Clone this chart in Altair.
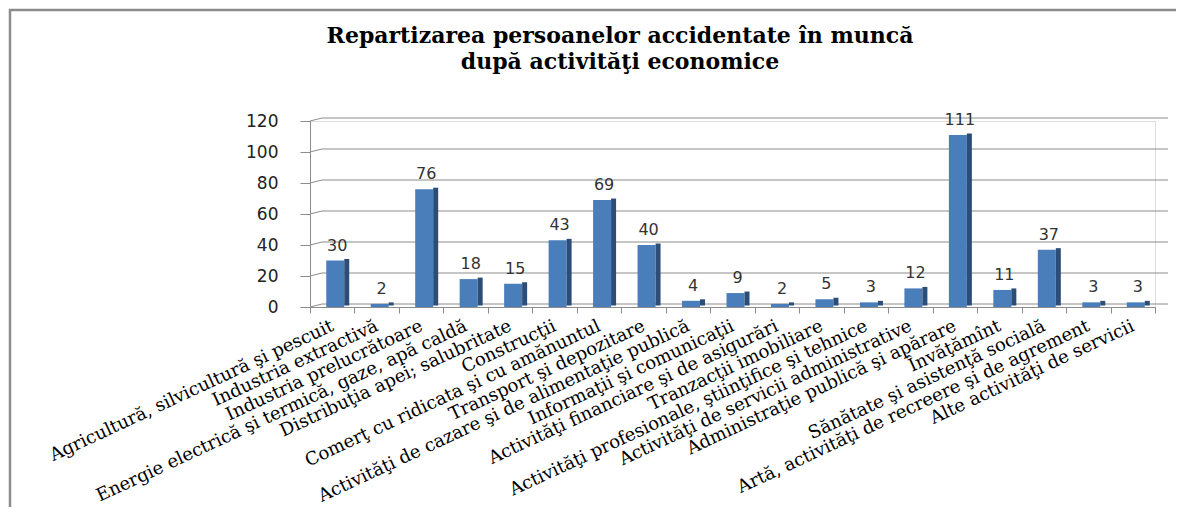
import altair as alt
import pandas as pd

categories = [
    "Agricultură, silvicultură şi pescuit",
    "Industria extractivă",
    "Industria prelucrătoare",
    "Energie electrică şi termică, gaze, apă caldă",
    "Distribuţia apei; salubritate",
    "Construcţii",
    "Comerţ cu ridicata şi cu amănuntul",
    "Transport şi depozitare",
    "Activităţi de cazare şi de alimentaţie publică",
    "Informaţii şi comunicaţii",
    "Activităţi financiare şi de asigurări",
    "Tranzacţii imobiliare",
    "Activităţi profesionale, ştiinţifice şi tehnice",
    "Activităţi de servicii administrative",
    "Administraţie publică şi apărare",
    "Învăţămînt",
    "Sănătate şi asistenţă socială",
    "Artă, activităţi de recreere şi de agrement",
    "Alte activităţi de servicii",
]
values = [30, 2, 76, 18, 15, 43, 69, 40, 4, 9, 2, 5, 3, 12, 111, 11, 37, 3, 3]
y_ticks = [0, 20, 40, 60, 80, 100, 120]
title_line1 = "Repartizarea persoanelor accidentate în muncă"
title_line2 = "după activităţi economice"

df = pd.DataFrame({"cat": categories, "val": values})
grid_df = pd.DataFrame({"t": y_ticks})

W, H = 845, 186

x_enc = alt.X("cat:N", sort=None, scale=alt.Scale(paddingInner=0, paddingOuter=0),
              axis=alt.Axis(title=None, labelAngle=-25, labelAlign="right", labelBaseline="middle",
                            labelFont="DejaVu Serif", labelFontSize=18, labelColor="#000000",
                            labelLimit=0, labelPadding=12, labelOverlap=False,
                            domainColor="#8c8c8c", tickColor="#8c8c8c", tickSize=6,
                            tickBand="extent", labelBound=False))
y_scale = alt.Scale(domain=[0, 120], nice=False)
y_axis = alt.Axis(title=None, values=y_ticks, grid=False, labelFont="DejaVu Sans",
                  labelFontSize=17, labelColor="#222222", labelPadding=22,
                  domainColor="#8c8c8c", tickColor="#8c8c8c", tickSize=10)


def Y(field):
    return alt.Y(field, scale=y_scale, axis=y_axis)


frame = alt.Chart(grid_df).mark_rect(fill=None, stroke="#8c8c8c", strokeWidth=2.5).encode(
    x=alt.value(-300), x2=alt.value(1000), y=alt.value(-111), y2=alt.value(500)
).transform_filter("datum.t == 0")

grid = alt.Chart(grid_df).mark_rule(color="#8c8c8c", strokeWidth=1, yOffset=-3).encode(
    y=Y("t:Q"), x=alt.value(12), x2=alt.value(858)
)
grid_conn = alt.Chart(grid_df).mark_rule(color="#8c8c8c", strokeWidth=1, y2Offset=-3).encode(
    x=alt.value(0), x2=alt.value(12), y=Y("t:Q"), y2=alt.Y2("t")
)

base = alt.Chart(df).encode(x=x_enc)

front = base.mark_bar(size=18, xOffset=3, color="#4A7EBB").encode(y=Y("val:Q"))
side = base.mark_bar(size=5, xOffset=14.5, yOffset=-1.5, color="#2C4D75").encode(y=Y("val:Q"))
labels = base.mark_text(dx=5, dy=-7, baseline="bottom", font="DejaVu Sans", fontSize=16,
                        color="#333333").encode(y=Y("val:Q"), text="val:Q")

title_style = dict(font="DejaVu Serif", fontSize=22, fontWeight="bold", color="#000000",
                   align="center", baseline="middle")
title1 = alt.Chart(grid_df).mark_text(text=title_line1, **title_style).encode(
    x=alt.value(310), y=alt.value(-85)
).transform_filter("datum.t == 0")
title2 = alt.Chart(grid_df).mark_text(text=title_line2, **title_style).encode(
    x=alt.value(310), y=alt.value(-59)
).transform_filter("datum.t == 0")

chart = alt.layer(frame, grid_conn, grid, front, side, labels, title1, title2).properties(
    width=W, height=H,
    autosize=alt.AutoSizeParams(type="none"),
    padding={"left": 302, "top": 113, "right": 21, "bottom": 200},
).configure_view(stroke=None).configure(background="white")

chart.save("out.html", embed_options={"renderer": "svg", "actions": False})
